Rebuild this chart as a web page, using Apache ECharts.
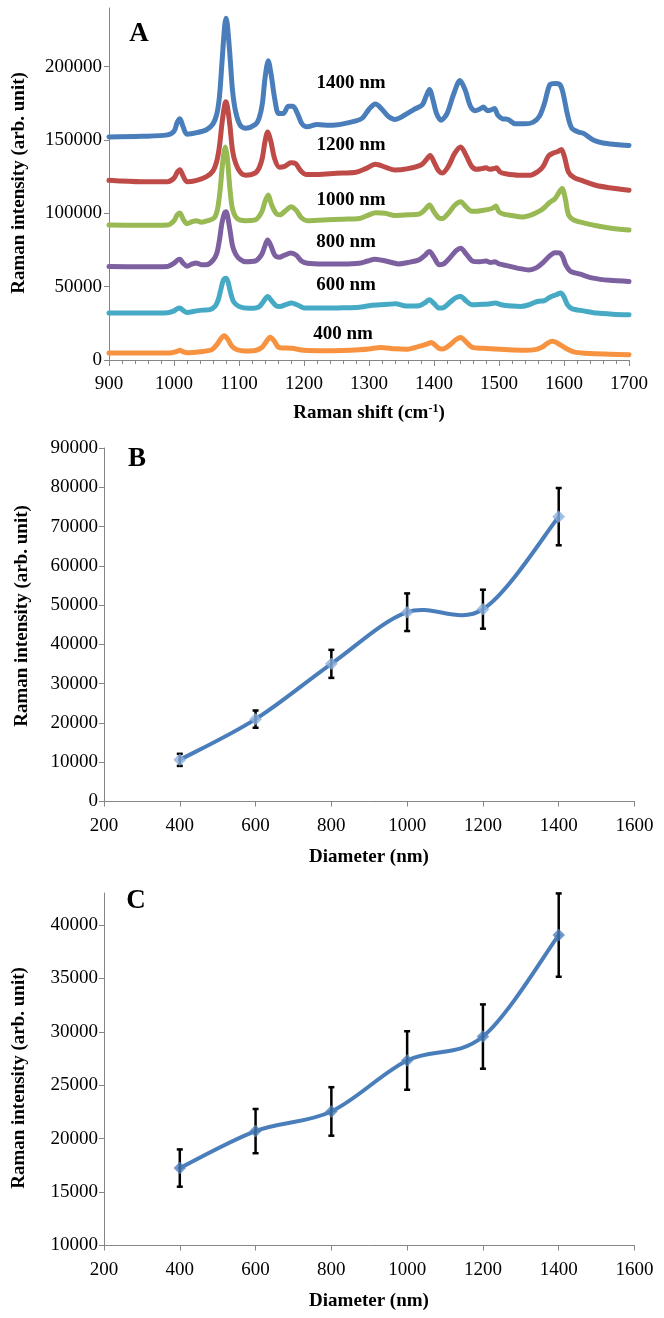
<!DOCTYPE html>
<html>
<head>
<meta charset="utf-8">
<script src="https://cdn.jsdelivr.net/npm/echarts@6/dist/echarts.min.js"></script>
<style>html,body{margin:0;padding:0;background:#fff}#c{width:664px;height:1318px}</style>
</head>
<body>
<div id="c"></div>
<script>
// ---------- Panel A: Raman spectra [Raman shift cm-1, intensity] ----------
const specNames = ['1400 nm', '1200 nm', '1000 nm', '800 nm', '600 nm', '400 nm'];
const spec1400 = [[900,152000],[950,152500],[990,153500],[1000,156000],[1005,162000],[1009,164500],[1014,159000],[1020,154000],[1035,155000],[1050,157000],[1060,161000],[1066,168000],[1070,180000],[1074,204000],[1078,228000],[1080,233000],[1082,229000],[1086,208000],[1090,184000],[1095,169000],[1102,160000],[1110,158000],[1125,160500],[1131,165000],[1136,175000],[1140,192000],[1145,204000],[1150,193000],[1155,178000],[1161,168000],[1168,168000],[1176,173000],[1183,173000],[1190,168000],[1197,161000],[1205,159000],[1220,160500],[1240,160000],[1260,161000],[1280,163000],[1290,165000],[1300,171000],[1310,174500],[1320,171000],[1330,166000],[1340,164000],[1355,167000],[1370,171000],[1382,174000],[1388,180000],[1393,184500],[1398,178000],[1404,168000],[1411,163500],[1420,168000],[1430,181000],[1440,190500],[1448,184000],[1456,173000],[1463,170000],[1470,171000],[1476,172500],[1482,170000],[1488,170500],[1493,171500],[1498,167000],[1505,164500],[1514,164000],[1525,161000],[1540,161000],[1552,162000],[1562,166000],[1570,175000],[1578,187500],[1586,188500],[1593,188000],[1598,183000],[1605,168000],[1612,158000],[1622,155500],[1630,154500],[1645,150000],[1660,148000],[1680,147000],[1700,146300]];
const spec1200 = [[900,122500],[950,121500],[990,121500],[1000,124000],[1005,128000],[1009,129800],[1014,125500],[1020,121500],[1035,122500],[1050,125000],[1060,129000],[1066,136000],[1070,146000],[1074,162000],[1078,174000],[1080,176000],[1082,173000],[1086,160000],[1090,143000],[1095,134000],[1102,128000],[1110,126000],[1125,127500],[1131,131000],[1136,138000],[1140,149000],[1144,155500],[1149,149000],[1155,137000],[1162,131500],[1170,132000],[1180,134500],[1187,134000],[1195,129000],[1203,126500],[1220,126500],[1240,127000],[1260,127500],[1280,128000],[1295,130500],[1310,133500],[1325,131500],[1340,129500],[1360,130500],[1380,133000],[1388,136500],[1394,139500],[1400,135000],[1407,129000],[1413,127500],[1422,132000],[1432,141000],[1441,145300],[1450,139000],[1458,132000],[1466,130000],[1474,130500],[1480,131000],[1486,130000],[1492,130500],[1496,131000],[1502,128000],[1510,127000],[1530,126000],[1548,126000],[1560,128500],[1568,132000],[1576,139000],[1583,141000],[1590,142000],[1596,143500],[1601,138000],[1607,128000],[1615,124500],[1630,122000],[1650,119000],[1670,117500],[1700,115800]];
const spec1000 = [[900,92000],[950,91800],[990,92000],[1000,95000],[1005,99000],[1009,100300],[1014,96000],[1020,93000],[1028,94300],[1034,95000],[1042,94000],[1052,95000],[1062,97000],[1067,103000],[1071,116000],[1075,135000],[1079,145300],[1082,138000],[1086,117000],[1090,103000],[1097,96500],[1110,95000],[1125,95500],[1135,101000],[1140,108000],[1145,112500],[1150,106000],[1157,100000],[1163,99000],[1172,102000],[1180,104500],[1188,102000],[1196,97000],[1205,95000],[1230,95500],[1260,96000],[1285,96500],[1300,99000],[1310,100400],[1325,100000],[1340,98500],[1360,99000],[1377,99500],[1385,102000],[1393,105600],[1400,101000],[1407,97000],[1413,96500],[1422,100000],[1432,105500],[1441,107900],[1450,104000],[1458,101500],[1466,101500],[1474,102000],[1482,102500],[1490,103500],[1495,105000],[1500,101000],[1507,99500],[1520,98500],[1535,97500],[1550,99000],[1562,101500],[1570,104000],[1578,107500],[1586,110000],[1592,114000],[1597,117000],[1602,110000],[1607,99000],[1615,95500],[1630,93500],[1650,91500],[1670,90000],[1700,88600]];
const spec800 = [[900,63700],[950,63500],[990,63800],[1000,66000],[1005,68000],[1009,68700],[1014,66000],[1020,64000],[1028,65500],[1034,66200],[1042,65000],[1050,65000],[1060,68000],[1066,73000],[1070,82000],[1074,94000],[1078,100500],[1080,101100],[1082,99000],[1086,89000],[1090,78000],[1095,72000],[1102,68500],[1110,67000],[1125,67500],[1135,72000],[1140,78000],[1144,81800],[1149,78000],[1155,71500],[1162,70000],[1170,71500],[1180,73000],[1188,71500],[1196,67500],[1205,66000],[1230,65500],[1260,65500],[1285,66000],[1298,67500],[1309,68700],[1320,68000],[1335,66500],[1345,65500],[1360,66500],[1377,68300],[1385,71000],[1393,73900],[1400,70000],[1408,65000],[1415,65500],[1425,70000],[1434,74500],[1441,76200],[1450,72000],[1459,67500],[1470,67000],[1480,67500],[1487,66500],[1494,67000],[1500,65500],[1514,64200],[1530,62500],[1546,61400],[1558,63000],[1568,66500],[1578,71000],[1586,73200],[1593,73000],[1598,70500],[1603,64500],[1610,60500],[1625,58500],[1645,55800],[1670,54300],[1700,53500]];
const spec600 = [[900,32000],[950,32000],[990,32200],[1000,33500],[1005,35000],[1009,35400],[1014,33800],[1020,32400],[1035,33500],[1045,34000],[1055,34300],[1063,36500],[1068,41000],[1072,48000],[1076,54500],[1080,55800],[1083,53500],[1087,46000],[1092,39500],[1100,36500],[1115,35300],[1130,36000],[1137,39500],[1144,43300],[1150,40500],[1157,37000],[1163,36500],[1172,37800],[1181,38800],[1190,37500],[1200,35500],[1230,35400],[1260,35600],[1285,36000],[1300,37000],[1318,37600],[1330,38000],[1341,38300],[1357,36800],[1377,37000],[1386,39000],[1393,41000],[1400,38500],[1408,35400],[1415,35800],[1425,39500],[1434,42500],[1441,43300],[1450,40000],[1459,37600],[1475,38000],[1485,38200],[1494,38800],[1505,37500],[1520,36800],[1533,36500],[1545,37500],[1559,39900],[1570,40500],[1579,43000],[1588,44500],[1595,45600],[1600,43000],[1605,38000],[1612,35000],[1630,33500],[1650,32000],[1675,31200],[1700,30800]];
const spec400 = [[900,4800],[950,4700],[993,4800],[1004,5800],[1009,6600],[1014,5600],[1020,4900],[1040,5600],[1058,7000],[1066,10500],[1072,14500],[1077,16500],[1083,14000],[1089,9500],[1097,7000],[1110,6200],[1125,6500],[1135,8500],[1142,12500],[1148,15500],[1154,13000],[1160,9000],[1166,8200],[1181,8000],[1200,6600],[1230,6300],[1260,6500],[1285,7000],[1300,7500],[1318,8600],[1340,7600],[1357,7300],[1377,9300],[1390,11000],[1396,12000],[1402,10000],[1408,7800],[1413,7500],[1425,10500],[1434,14000],[1441,15400],[1449,12500],[1459,8600],[1475,8000],[1495,7500],[1514,7000],[1540,6700],[1553,6900],[1565,8500],[1575,11500],[1582,12700],[1590,11500],[1598,9300],[1608,6800],[1618,5200],[1640,4400],[1670,4000],[1700,3600]];
const spectra = [spec1400, spec1200, spec1000, spec800, spec600, spec400];
const specColors = ['#4A7EBB', '#BE4B48', '#98B954', '#7D60A0', '#46AAC5', '#F69240'];
const yTicksA = [0, 50000, 100000, 150000, 200000];

// ---------- Panel B and C: intensity vs diameter ----------
const diameters = [400, 600, 800, 1000, 1200, 1400];
const intensityB = [10600, 20970, 35040, 48190, 48960, 72520];
const errorB = [1540, 2200, 3570, 4790, 4960, 7290];
const intensityC = [17250, 20710, 22550, 27320, 29560, 39060];
const errorC = [1745, 2070, 2270, 2740, 3010, 3900];
const yTicksB = [0, 10000, 20000, 30000, 40000, 50000, 60000, 70000, 80000, 90000];
const yTicksC = [10000, 15000, 20000, 25000, 30000, 35000, 40000];

const FONT = '"Liberation Serif", "Times New Roman", serif';
const AXC = '#868686';
const plain = v => String(v);

const chart = echarts.init(document.getElementById('c'), null, {renderer: 'canvas', width: 664, height: 1318});

function axisCommon() {
  return {
    axisLine: {show: true, lineStyle: {color: AXC, width: 1}},
    axisTick: {show: true, inside: false, length: 5, lineStyle: {color: AXC}},
    splitLine: {show: false},
    axisLabel: {color: '#000', fontFamily: FONT, fontSize: 19, formatter: plain}
  };
}

function xAxisDiam(gi) {
  const a = axisCommon();
  return Object.assign(a, {
    type: 'value', gridIndex: gi, min: 200, max: 1600, interval: 200,
    axisLabel: Object.assign(a.axisLabel, {margin: 15})
  });
}

function errRender(params, api) {
  const x = api.value(0), lo = api.value(1), hi = api.value(2);
  const p1 = api.coord([x, hi]);
  const p2 = api.coord([x, lo]);
  const w = 3;
  const st = {stroke: '#000', lineWidth: 2.5};
  return {type: 'group', children: [
    {type: 'line', shape: {x1: p1[0], y1: p1[1], x2: p2[0], y2: p2[1]}, style: st},
    {type: 'line', shape: {x1: p1[0] - w, y1: p1[1], x2: p1[0] + w, y2: p1[1]}, style: st},
    {type: 'line', shape: {x1: p2[0] - w, y1: p2[1], x2: p2[0] + w, y2: p2[1]}, style: st}
  ]};
}

// Excel-like smoothed curve (Catmull-Rom Bezier) built from data through the axes
function smoothRender(vals) {
  return function (params, api) {
    if (params.dataIndex !== 0) return null;
    const pts = diameters.map((d, i) => api.coord([d, vals[i]]));
    const n = pts.length;
    let path = 'M' + pts[0][0] + ' ' + pts[0][1];
    for (let i = 0; i < n - 1; i++) {
      const p0 = pts[Math.max(0, i - 1)], p1 = pts[i], p2 = pts[i + 1], p3 = pts[Math.min(n - 1, i + 2)];
      const c1 = [p1[0] + (p2[0] - p0[0]) / 6, p1[1] + (p2[1] - p0[1]) / 6];
      const c2 = [p2[0] - (p3[0] - p1[0]) / 6, p2[1] - (p3[1] - p1[1]) / 6];
      path += ' C' + c1[0] + ' ' + c1[1] + ' ' + c2[0] + ' ' + c2[1] + ' ' + p2[0] + ' ' + p2[1];
    }
    return {type: 'path', shape: {pathData: path}, style: {fill: 'none', stroke: '#4A7EBB', lineWidth: 4, lineJoin: 'round', lineCap: 'round'}};
  };
}

const series = [];
spectra.forEach((d, i) => {
  series.push({
    type: 'line', name: specNames[i], xAxisIndex: 0, yAxisIndex: 0, data: d,
    showSymbol: false, smooth: 0.3,
    lineStyle: {color: specColors[i], width: 5, join: 'round', cap: 'round'}, z: 2 + i * 0.01
  });
});

function addDiamSeries(gi, vals, errs, markerColor) {
  series.push({
    type: 'custom', xAxisIndex: gi, yAxisIndex: gi,
    data: diameters.map((d, i) => [d, vals[i]]),
    renderItem: smoothRender(vals), z: 2
  });
  series.push({
    type: 'custom', xAxisIndex: gi, yAxisIndex: gi,
    data: diameters.map((d, i) => [d, vals[i] - errs[i], vals[i] + errs[i]]),
    renderItem: errRender, z: 3
  });
  series.push({
    type: 'scatter', xAxisIndex: gi, yAxisIndex: gi,
    data: diameters.map((d, i) => [d, vals[i]]),
    symbol: 'diamond', symbolSize: 12,
    itemStyle: {color: markerColor, borderColor: '#6E93C6', borderWidth: 0.5}, z: 4
  });
}
addDiamSeries(1, intensityB, errorB, '#8DB4E2');
addDiamSeries(2, intensityC, errorC, '#4A7EBB');

const ya = axisCommon();
const yb = axisCommon();
const yc = axisCommon();
const xa = axisCommon();

const boldText = (txt, x, y, size, rot) => ({
  type: 'text', x: x, y: y, rotation: rot || 0,
  style: {text: txt, font: 'bold ' + size + 'px ' + FONT, fill: '#000', textAlign: 'center', textVerticalAlign: 'middle'}
});

const option = {
  animation: false,
  backgroundColor: '#fff',
  grid: [
    {left: 109, top: 8, width: 520, height: 352},
    {left: 104, top: 448, width: 530.5, height: 353.5},
    {left: 104, top: 893, width: 530.5, height: 352.5}
  ],
  xAxis: [
    Object.assign(xa, {
      type: 'value', gridIndex: 0, min: 900, max: 1700, interval: 100,
      axisTick: {show: true, length: 6, lineStyle: {color: AXC}},
      minorTick: {show: true, splitNumber: 5, length: 4, lineStyle: {color: AXC}},
      axisLabel: Object.assign(xa.axisLabel, {margin: 15})
    }),
    xAxisDiam(1),
    xAxisDiam(2)
  ],
  yAxis: [
    Object.assign(ya, {
      type: 'value', gridIndex: 0, min: 0, max: 240000, interval: 50000,
      axisTick: {show: true, length: 5, lineStyle: {color: AXC}, customValues: yTicksA},
      axisLabel: Object.assign(ya.axisLabel, {margin: 7, customValues: yTicksA})
    }),
    Object.assign(yb, {
      type: 'value', gridIndex: 1, min: 0, max: 90000, interval: 10000,
      axisTick: {show: true, length: 5, lineStyle: {color: AXC}, customValues: yTicksB},
      axisLabel: Object.assign(yb.axisLabel, {margin: 6, customValues: yTicksB})
    }),
    Object.assign(yc, {
      type: 'value', gridIndex: 2, min: 10000, max: 43000, interval: 5000,
      axisTick: {show: true, length: 5, lineStyle: {color: AXC}, customValues: yTicksC},
      axisLabel: Object.assign(yc.axisLabel, {margin: 6, customValues: yTicksC})
    })
  ],
  series: series,
  graphic: [
    boldText('A', 139, 34, 27),
    boldText('B', 137, 459, 27),
    boldText('C', 136, 901, 27),
    boldText('1400 nm', 351, 83, 19),
    boldText('1200 nm', 351, 145, 19),
    boldText('1000 nm', 351, 200, 19),
    boldText('800 nm', 346, 242, 19),
    boldText('600 nm', 346, 285, 19),
    boldText('400 nm', 343, 334, 19),
    {
      type: 'text', x: 369, y: 413,
      style: {
        text: 'Raman shift (cm{sup|-1})',
        font: 'bold 19px ' + FONT, fill: '#000', textAlign: 'center', textVerticalAlign: 'middle',
        rich: {sup: {fontSize: 12, fontWeight: 'bold', fontFamily: FONT, verticalAlign: 'top', padding: [0, 0, 8, 0]}}
      }
    },
    boldText('Diameter (nm)', 369, 857, 19),
    boldText('Diameter (nm)', 369, 1301, 19),
    boldText('Raman intensity (arb. unit)', 19, 183, 19, Math.PI / 2),
    boldText('Raman intensity (arb. unit)', 22, 616, 19, Math.PI / 2),
    boldText('Raman intensity (arb. unit)', 19, 1078, 19, Math.PI / 2)
  ]
};
chart.setOption(option);
</script>
</body>
</html>
